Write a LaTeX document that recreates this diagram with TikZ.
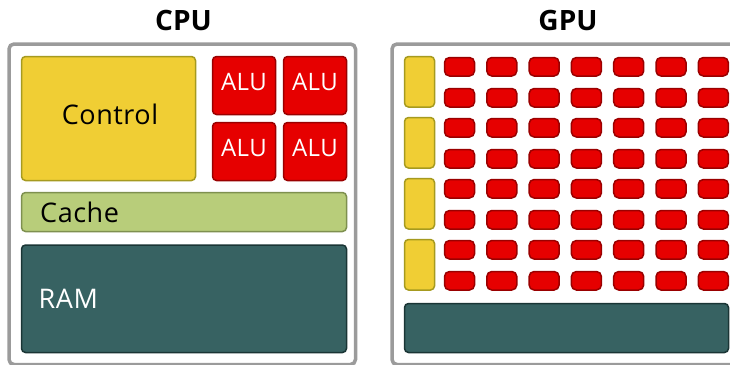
\documentclass[tikz,border=0pt]{standalone}
\usepackage{fontspec}
\setmainfont{Open Sans}[LetterSpace=2]
\newfontfamily\ttlfont{Open Sans}
\definecolor{frameg}{HTML}{9B9B9B}
\definecolor{ctlfill}{HTML}{F0CE34}
\definecolor{ctldraw}{HTML}{A69A1F}
\definecolor{alufill}{HTML}{E60000}
\definecolor{aludraw}{HTML}{9A0000}
\definecolor{cachefill}{HTML}{B8CD7A}
\definecolor{cachedraw}{HTML}{7E904F}
\definecolor{ramfill}{HTML}{376262}
\definecolor{ramdraw}{HTML}{1A3535}
\newcommand\rbx[6]{\node[#2, minimum width={#5-#3}, minimum height={#6-#4}] (#1) at ({(#3+#5)/2},{(#4+#6)/2}) {};}
\begin{document}
\begin{tikzpicture}[x=1pt,y=-1pt,
  base/.style={rectangle, inner sep=0pt, outer sep=0pt, line width=1.5pt, rounded corners=4pt},
  frame/.style={base, draw=frameg, fill=white, line width=3.5pt, rounded corners=5pt},
  ctl/.style={base, draw=ctldraw, fill=ctlfill},
  alu/.style={base, draw=aludraw, fill=alufill},
  galu/.style={base, draw=aludraw, fill=alufill, rounded corners=5pt},
  cache/.style={base, draw=cachedraw, fill=cachefill},
  ram/.style={base, draw=ramdraw, fill=ramfill},
  title/.style={inner sep=0pt, font=\ttlfont\bfseries\fontsize{28}{28}\selectfont},
  lbl/.style={inner sep=0pt, font=\fontsize{27}{27}\selectfont},
  alut/.style={inner sep=0pt, text=white, font=\fontsize{24}{24}\selectfont}]
\useasboundingbox (0,0) rectangle (730,364);
\clip (0,0) rectangle (730,364);
% titles
\node[title, anchor=base] (cput) at (183.5,30.5) {CPU};
\node[title, anchor=base] (gput) at (568,30.5) {GPU};
% CPU
\rbx{cpu}{frame}{9}{44}{355.5}{364.5}
\rbx{ctl}{ctl}{21.5}{56.5}{195.5}{180.5}
\rbx{a11}{alu}{212.5}{56.5}{275.5}{114.5}
\rbx{a12}{alu}{283.5}{56.5}{346.5}{114.5}
\rbx{a21}{alu}{212.5}{122.5}{275.5}{180.5}
\rbx{a22}{alu}{283.5}{122.5}{346.5}{180.5}
\rbx{cache}{cache}{21.5}{192.5}{346.5}{231.5}
\rbx{ram}{ram}{21.5}{245}{346.5}{352.5}
\node[lbl, anchor=base] (ctlt) at (110,124.5) {Control};
\node[alut, anchor=base] (a11t) at (a11.center |- 0,90.5) {ALU};
\node[alut, anchor=base] (a12t) at (a12.center |- 0,90.5) {ALU};
\node[alut, anchor=base] (a21t) at (a21.center |- 0,156.5) {ALU};
\node[alut, anchor=base] (a22t) at (a22.center |- 0,156.5) {ALU};
\node[lbl, anchor=base west] (cachet) at (40,222) {Cache};
\node[lbl, anchor=base west, text=white] (ramt) at (38.5,308.5) {RAM};
% GPU
\rbx{gpu}{frame}{392}{44}{770}{364.5}
\foreach \k in {0,...,3} {
  \pgfmathsetmacro\yt{56.5+61*\k}
  \pgfmathsetmacro\yb{\yt+50.5}
  \rbx{gc\k}{ctl}{404.5}{\yt}{434.5}{\yb}
  \foreach \c in {0,...,6} {
    \pgfmathsetmacro\xl{444.5+42.3*\c}
    \pgfmathsetmacro\xr{\xl+30}
    \pgfmathsetmacro\ya{\yt+1}
    \pgfmathsetmacro\yaa{\ya+18.5}
    \pgfmathsetmacro\yc{\yt+32}
    \pgfmathsetmacro\ycc{\yc+18.5}
    \rbx{ga\k-\c}{galu}{\xl}{\ya}{\xr}{\yaa}
    \rbx{gb\k-\c}{galu}{\xl}{\yc}{\xr}{\ycc}
  }
}
\rbx{gram}{ram}{404.5}{303.5}{728.5}{352.5}
\end{tikzpicture}
\end{document}
